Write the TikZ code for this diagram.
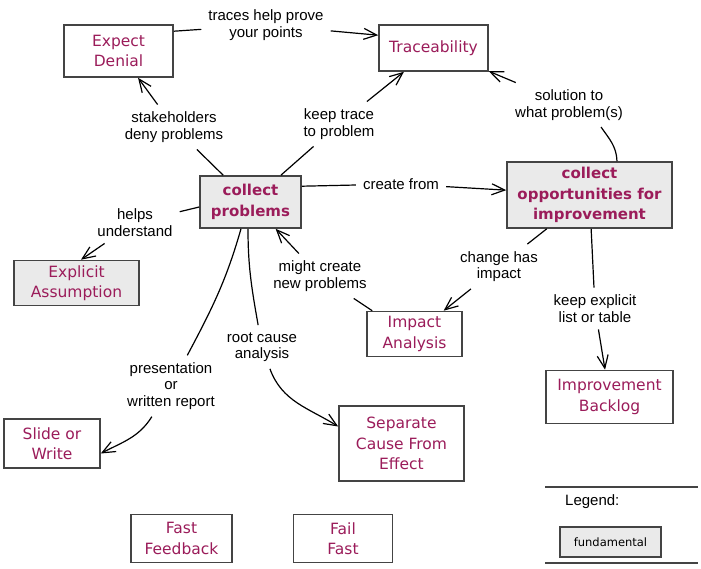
\documentclass[tikz,border=0pt]{standalone}
\usepackage{fontspec}
\usetikzlibrary{arrows.meta}
\newfontfamily\nodefamily{DejaVu Sans}
\newfontfamily\lblfamily{Liberation Sans}
\definecolor{nodetext}{RGB}{155,28,90}
\definecolor{fundfill}{RGB}{234,234,234}
\definecolor{boxline}{RGB}{68,68,68}
\begin{document}
\begin{tikzpicture}[x=1pt,y=1pt,
 box/.style={draw=boxline, line width=1.6pt, text=nodetext, align=center, inner sep=0pt,
   font=\nodefamily\fontsize{15.5}{20.5}\selectfont},
 fundbox/.style={box, fill=fundfill, font=\nodefamily\bfseries\fontsize{15}{20.5}\selectfont},
 lbl/.style={align=center, inner sep=7pt, font=\lblfamily\fontsize{15}{16.5}\selectfont},
 conn/.style={line width=1.2pt, black},
 arr/.style={conn, -{Straight Barb[length=13pt,width=11pt]}},
 legline/.style={line width=1.5pt, boxline}]
\fill[white] (0,0) rectangle (701,-568);
\useasboundingbox (0,0) rectangle (701,-568);

% concept nodes
\node[box, minimum width=109pt, minimum height=52pt] (ed) at (118.5,-51) {Expect\\Denial};
\node[box, minimum width=109pt, minimum height=46pt] (tr) at (433.5,-48) {Traceability};
\node[fundbox, minimum width=101pt, minimum height=52pt] (cp) at (250.5,-202) {collect\\problems};
\node[fundbox, minimum width=165pt, minimum height=66pt] (co) at (589.5,-195) {collect\\opportunities for\\improvement};
\node[box, fill=fundfill, minimum width=125pt, minimum height=45pt] (ea) at (76.5,-283) {Explicit\\Assumption};
\node[box, minimum width=95pt, minimum height=45pt] (ia) at (414.5,-334) {Impact\\Analysis};
\node[box, minimum width=127pt, minimum height=53pt] (ib) at (609.5,-397) {Improvement\\Backlog};
\node[box, minimum width=96pt, minimum height=49pt] (sw) at (52,-443.5) {Slide or\\Write};
\node[box, minimum width=125pt, minimum height=75pt] (sc) at (401.5,-443.5) {Separate\\Cause From\\Effect};
\node[box, minimum width=101pt, minimum height=48pt] (ff) at (181.5,-538.5) {Fast\\Feedback};
\node[box, minimum width=99pt, minimum height=48pt] (fl) at (343,-538.5) {Fail\\Fast};

% link labels
\node[lbl] (l1) at (266,-25) {traces help prove\\your points};
\node[lbl] (l2) at (174,-127) {stakeholders\\deny problems};
\node[lbl] (l3) at (339,-124) {keep trace\\to problem};
\node[lbl] (l4) at (401,-184) {create from};
\node[lbl] (l5) at (569,-105) {solution to\\what problem(s)};
\node[lbl] (l6) at (499,-266.5) {change has\\impact};
\node[lbl] (l7) at (595,-308.5) {keep explicit\\list or table};
\node[lbl] (l8) at (320,-276) {might create\\new problems};
\node[lbl] (l9) at (135,-222.5) {helps\\understand};
\node[lbl] (l10) at (262,-347) {root cause\\analysis};
\node[lbl] (l11) at (171,-386) {presentation\\or\\written report};
\coordinate (l5a) at (601,-127);

% connectors
\draw[conn] ([yshift=-7pt]ed.north east) -- (l1);
\draw[arr] (l1) -- ([yshift=-11pt]tr.north west);
\draw[conn] (cp) -- (l2);
\draw[arr] (l2) -- (ed);
\draw[conn] (cp) -- (l3);
\draw[arr] (l3) -- (tr);
\draw[conn] ([yshift=-11pt]cp.north east) -- (l4);
\draw[arr] (l4) -- (co);
\draw[conn] ([xshift=27.5pt]co.north) to[out=92,in=-55] (l5a);
\draw[arr] (l5) -- (tr);
\draw[conn] (co) -- (l6);
\draw[arr] (l6) -- (ia);
\draw[conn] (co) -- (l7);
\draw[arr] (l7) -- (ib);
\draw[conn] ([xshift=6pt]ia.north west) -- (l8);
\draw[arr] (l8) -- (cp);
\draw[conn] ([yshift=-5pt]cp.west) -- (l9);
\draw[arr] (l9) -- ([xshift=4.5pt]ea.north);
\draw[conn] ([xshift=-2.5pt]cp.south) to[out=-90,in=100] (l10);
\draw[arr] (l10) to[out=-70,in=148] ([yshift=17pt]sc.west);
\draw[conn] ([xshift=-9.5pt]cp.south) to[out=-106,in=62] (l11);
\draw[arr] (l11) to[out=-122,in=28] ([yshift=-10pt]sw.east);

% legend
\draw[legline] (545,-487) -- (698,-487);
\draw[legline] (545,-563) -- (698,-563);
\node[lbl, anchor=west, inner sep=0pt] (lg) at (565,-502) {Legend:};
\node[box, fill=fundfill, text=black, minimum width=101pt, minimum height=30pt,
  font=\nodefamily\fontsize{11.5}{14}\selectfont] (fd) at (610.5,-542) {fundamental};
\end{tikzpicture}
\end{document}
